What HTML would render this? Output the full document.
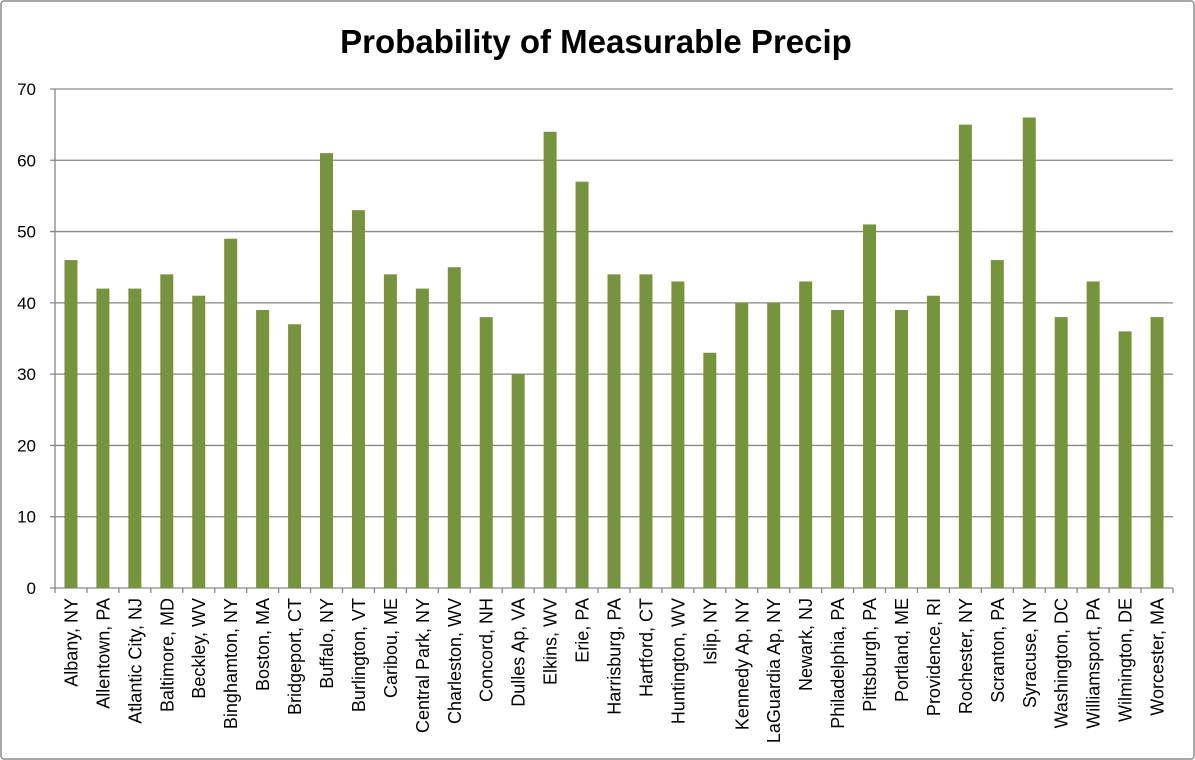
<!DOCTYPE html>
<html><head><meta charset="utf-8"><style>
html,body{margin:0;padding:0;background:#fff;}
svg{display:block;font-family:"Liberation Sans",sans-serif;}
</style></head><body>
<svg id="chart" width="1195" height="760" xmlns="http://www.w3.org/2000/svg">
<rect x="1" y="1" width="1193" height="758" fill="#fff" stroke="#8c8c8c" stroke-width="1.5" rx="3"/>
<text x="596" y="53" text-anchor="middle" font-size="33" font-weight="bold" fill="#000">Probability of Measurable Precip</text>
<g id="grid"></g><g id="bars"></g><g id="axes"></g>
</svg>
<script>
const categories=["Albany, NY","Allentown, PA","Atlantic City, NJ","Baltimore, MD","Beckley, WV","Binghamton, NY","Boston, MA","Bridgeport, CT","Buffalo, NY","Burlington, VT","Caribou, ME","Central Park, NY","Charleston, WV","Concord, NH","Dulles Ap, VA","Elkins, WV","Erie, PA","Harrisburg, PA","Hartford, CT","Huntington, WV","Islip, NY","Kennedy Ap, NY","LaGuardia Ap, NY","Newark, NJ","Philadelphia, PA","Pittsburgh, PA","Portland, ME","Providence, RI","Rochester, NY","Scranton, PA","Syracuse, NY","Washington, DC","Williamsport, PA","Wilmington, DE","Worcester, MA"];
const values=[46,42,42,44,41,49,39,37,61,53,44,42,45,38,30,64,57,44,44,43,33,40,40,43,39,51,39,41,65,46,66,38,43,36,38];
const yTicks=[0,10,20,30,40,50,60,70];
const NS="http://www.w3.org/2000/svg";
const X0=55,X1=1173,Y0=588,Y1=89,YMAX=70;
const step=(X1-X0)/categories.length;
function y(v){return Y0-(v/YMAX)*(Y0-Y1);}
function x(i){return X0+step*(i+0.5);}
function mk(tag,attrs,parent){const e=document.createElementNS(NS,tag);for(const k in attrs)e.setAttribute(k,attrs[k]);document.getElementById(parent).appendChild(e);return e;}
yTicks.forEach(t=>{
  const l=mk('line',{x1:X0-5,x2:X1,y1:y(t),y2:y(t),stroke:'#868686','stroke-width':1.3},'grid');
  
  
  const tx=mk('text',{x:36,y:y(t)+6,'text-anchor':'end','font-size':17,fill:'#000'},'axes');
  tx.textContent=t;
  
  
});
mk('line',{x1:X0,x2:X0,y1:Y1,y2:Y0,stroke:'#868686','stroke-width':1.3},'axes');
values.forEach((v,i)=>{
  const r=mk('rect',{x:x(i)-6.5,y:y(v),width:13,height:Y0-y(v),fill:'#77933c'},'bars');
  
  
});
for(let i=0;i<=categories.length;i++){
  mk('line',{x1:X0+step*i,x2:X0+step*i,y1:Y0,y2:Y0+5,stroke:'#868686','stroke-width':1.3},'axes');
}
categories.forEach((c,i)=>{
  const t=mk('text',{transform:`translate(${x(i)+6.5},598) rotate(-90)`,'text-anchor':'end','font-size':18,fill:'#000'},'axes');
  t.textContent=c;
  
  
});
</script>
</body></html>
